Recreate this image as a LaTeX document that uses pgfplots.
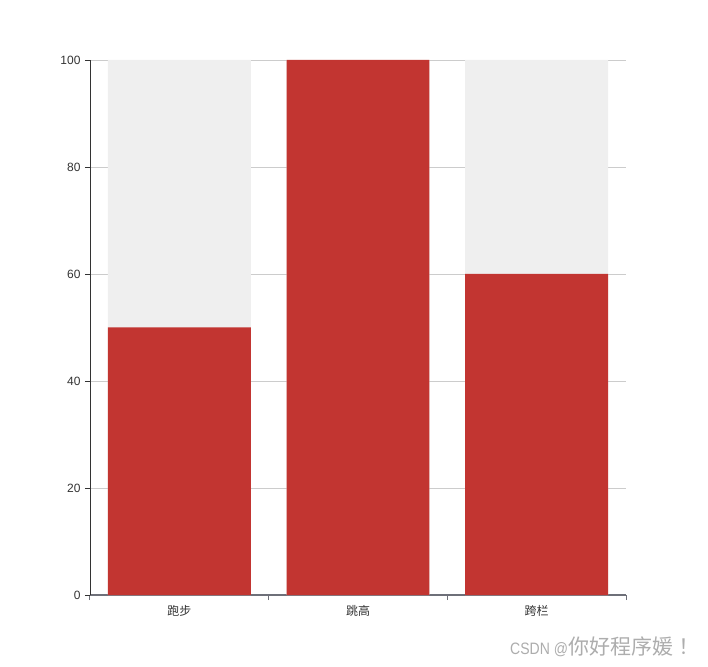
\documentclass[border=0pt]{standalone}
\usepackage{pgfplots}
\pgfplotsset{compat=1.18}
\usepackage{fontspec}
\setmainfont{Liberation Sans}
\newfontfamily\cjk{Noto Sans CJK SC}
\newfontfamily\wmtc{Noto Sans CJK TC}
\newfontfamily\wmlat[FakeStretch=0.85]{Liberation Sans}

\definecolor{barred}{HTML}{C23531}
\definecolor{bargray}{HTML}{EFEFEF}
\definecolor{gridc}{HTML}{CCCCCC}
\definecolor{xaxisc}{HTML}{6E7079}
\definecolor{txt}{HTML}{333333}
\definecolor{mark}{HTML}{ADADAD}

\begin{document}
\begin{tikzpicture}[x=1pt,y=1pt]
  \path[use as bounding box] (-90,-71) rectangle (618,595);
  \begin{axis}[
    scale only axis,
    width=536pt, height=535pt,
    anchor=south west,
    xmin=-0.5, xmax=2.5,
    ymin=0, ymax=100,
    ytick={0,20,...,100},
    xtick={0,1,2},
    xticklabels={{\cjk 跑步},{\cjk 跳高},{\cjk 跨栏}},
    minor xtick={-0.5,0.5,1.5,2.5},
    major x tick style={draw=none},
    minor x tick style={draw=xaxisc, line width=1pt},
    minor tick length=5pt,
    major tick length=5pt,
    tick align=outside,
    y tick style={draw=txt, line width=0.8pt},
    ymajorgrids,
    major grid style={draw=gridc, line width=0.8pt},
    axis x line*=bottom,
    axis y line*=left,
    x axis line style={draw=xaxisc, line width=1.2pt, -},
    y axis line style={draw=txt, line width=0.8pt, -},
    tick label style={font=\fontsize{12}{14}\selectfont, text=txt},
    yticklabel style={xshift=-1pt},
    xticklabel style={yshift=-2pt},
    /pgf/number format/assume math mode=true,
    ybar, bar width=0.8, bar shift=0pt,
  ]
    \addplot[fill=bargray, draw=none] coordinates {(0,100) (1,100) (2,100)};
    \addplot[fill=barred, draw=none] coordinates {(0,50) (1,100) (2,60)};
  \end{axis}
  % watermark
  \node[anchor=base west, inner sep=0pt, text=mark] at (420,-59)
    {\fontsize{16.5}{20}\selectfont\wmlat CSDN @\cjk\fontsize{21}{24}\selectfont 你好程序媛{\wmtc ！}};
\end{tikzpicture}
\end{document}
